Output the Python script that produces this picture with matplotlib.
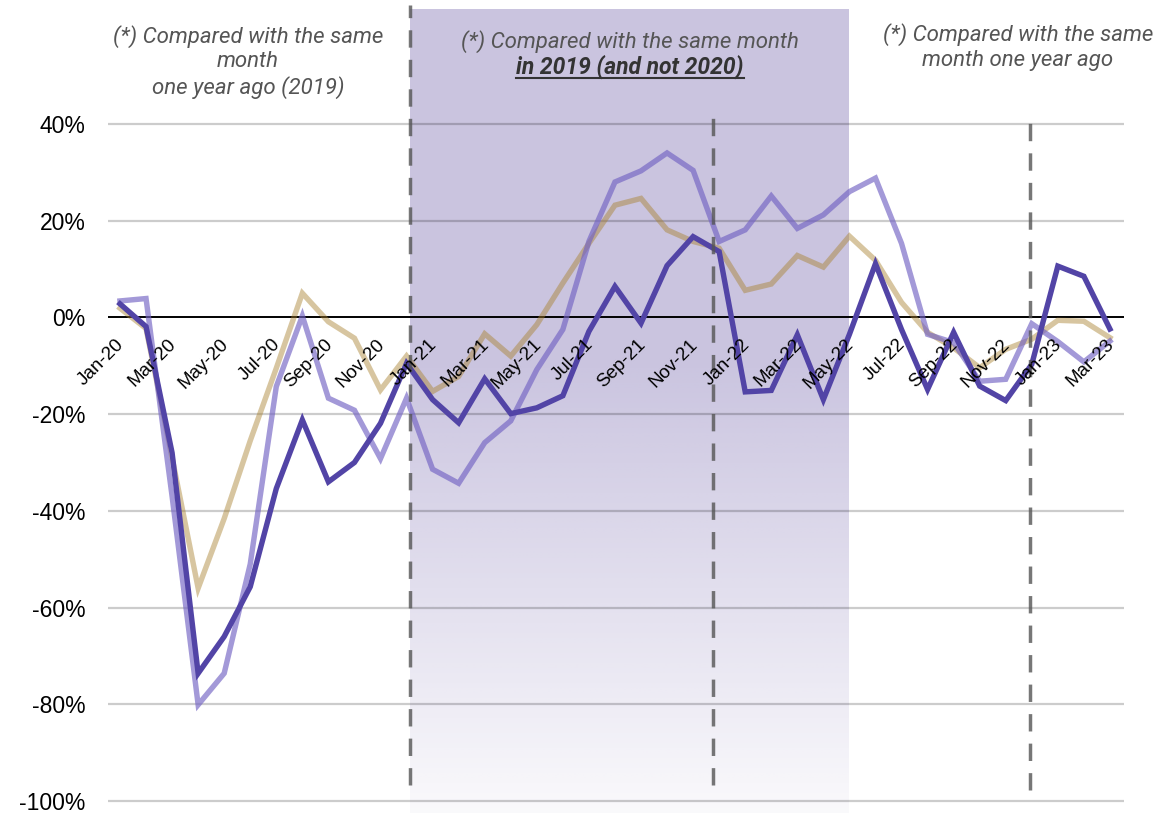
import numpy as np
import matplotlib.pyplot as plt
from matplotlib.lines import Line2D

# monthly change vs. reference month, Jan-20 .. Mar-23
month_names = ["Jan", "Feb", "Mar", "Apr", "May", "Jun",
               "Jul", "Aug", "Sep", "Oct", "Nov", "Dec"]
months = [f"{m}-{y}" for y in ("20", "21", "22", "23") for m in month_names][:39]

dark = [2.8, -1.9, -28.0, -73.6, -66.0, -55.7, -35.4, -21.2, -34.0, -30.0, -21.9, -9.5,
        -17.0, -21.8, -12.7, -19.9, -18.7, -16.2, -2.9, 6.4, -1.2, 10.7, 16.7, 13.6,
        -15.4, -15.1, -3.6, -17.0, -3.5, 11.1, -2.5, -14.9, -3.1, -14.2, -17.2, -9.7,
        10.6, 8.5, -2.4]
light = [3.4, 3.9, -37.0, -80.1, -73.6, -51.0, -14.3, 0.3, -16.7, -19.2, -29.2, -16.7,
         -31.4, -34.3, -25.9, -21.4, -10.8, -2.5, 15.7, 28.0, 30.3, 34.0, 30.4, 15.7,
         18.1, 25.1, 18.4, 21.2, 26.0, 28.8, 15.3, -3.5, -5.2, -13.2, -12.8, -1.3,
         -5.0, -9.2, -4.9]
tan = [1.9, -2.3, -29.0, -56.0, -41.6, -25.5, -10.5, 5.0, -0.9, -4.3, -15.0, -8.0,
       -15.3, -12.2, -3.4, -8.0, -1.5, 7.1, 15.3, 23.2, 24.6, 18.1, 15.7, 14.3,
       5.6, 6.9, 12.8, 10.4, 16.8, 11.8, 3.1, -3.1, -6.3, -10.4, -6.6, -4.5,
       -0.6, -0.8, -4.2]

y_ticks = [40, 20, 0, -20, -40, -60, -80, -100]

fig = plt.figure(figsize=(11.6, 8.13), dpi=100)
ax = fig.add_axes([108 / 1160, 0, (1124 - 108) / 1160, 1])
ax.set_xlim(-0.46, 38.54)
ax.set_ylim(-102.48, 65.63)
for s in ax.spines.values():
    s.set_visible(False)

x = np.arange(len(months))

# shaded period with vertical fade
grad_h = 256
alpha = np.interp(np.linspace(63.6, -102.5, grad_h), [-102.5, -10, 63.6], [0.04, 0.39, 0.39])
shade = np.zeros((grad_h, 1, 4))
shade[..., 0], shade[..., 1], shade[..., 2] = 120 / 255, 105 / 255, 175 / 255
shade[:, 0, 3] = alpha
ax.imshow(shade, extent=(11.13, 27.95, -102.5, 63.6), aspect="auto",
          origin="upper", zorder=0.5, clip_on=False, interpolation="bilinear")

# grid
for v in y_ticks:
    if v == 0:
        ax.axhline(v, color="black", lw=1.4, zorder=1.5)
    else:
        ax.axhline(v, color="black", alpha=0.2, lw=1.6, zorder=1)

ax.set_yticks(y_ticks)
ax.set_yticklabels([f"{v}%" for v in y_ticks], fontsize=16.5, family="Liberation Sans")
ax.tick_params(axis="y", length=0, pad=16)
ax.set_xticks([])

# series
lw = 3.9
ax.plot(x, tan, color=(168 / 255, 128 / 255, 44 / 255), alpha=0.45, lw=lw,
        solid_joinstyle="miter", zorder=2)
ax.plot(x, light, color=(114 / 255, 98 / 255, 195 / 255), alpha=0.65, lw=lw,
        solid_joinstyle="miter", zorder=3)
ax.plot(x, dark, color="#5244A6", lw=lw, solid_joinstyle="miter", zorder=4)

# month labels along the zero line
for i in range(0, len(months), 2):
    ax.annotate(months[i], xy=(i, 0), xytext=(1.2, -17.5), textcoords="offset points",
                rotation=45, rotation_mode="anchor", ha="right", va="center",
                fontsize=13.5, family="Liberation Sans", zorder=6)

# period separators
for xv, y0, y1 in [(11.13, -96.7, 64.6), (22.76, -96.7, 41.2), (34.93, -97.7, 42.3)]:
    ax.plot([xv, xv], [y0, y1], color="#555555", alpha=0.8, lw=2.5,
            dashes=(5, 3.5), clip_on=False, zorder=5)

note_kw = dict(fontsize=16, family="Roboto", style="italic", color="#555555",
               ha="center", va="center")
fig.text(248 / 1160, 1 - 62 / 813, "(*) Compared with the same\nmonth\none year ago (2019)",
         linespacing=1.22, **note_kw)
fig.text(630 / 1160, 1 - 42 / 813, "(*) Compared with the same month", **note_kw)
bold = fig.text(630 / 1160, 1 - 67 / 813, "in 2019 (and not 2020)", fontsize=16.5,
                family="Roboto", style="italic", weight="bold", color="#333333",
                ha="center", va="center")
fig.text(1018 / 1160, 1 - 47 / 813, "(*) Compared with the same\nmonth one year ago",
         linespacing=1.25, **note_kw)

# underline for the bold note
renderer = fig.canvas.get_renderer()
bb = bold.get_window_extent(renderer).transformed(fig.transFigure.inverted())
fig.add_artist(Line2D([bb.x0, bb.x1], [bb.y0 + 0.001, bb.y0 + 0.001],
                      transform=fig.transFigure, color="#333333", lw=1.5))

fig.savefig("out.png", dpi=100)
